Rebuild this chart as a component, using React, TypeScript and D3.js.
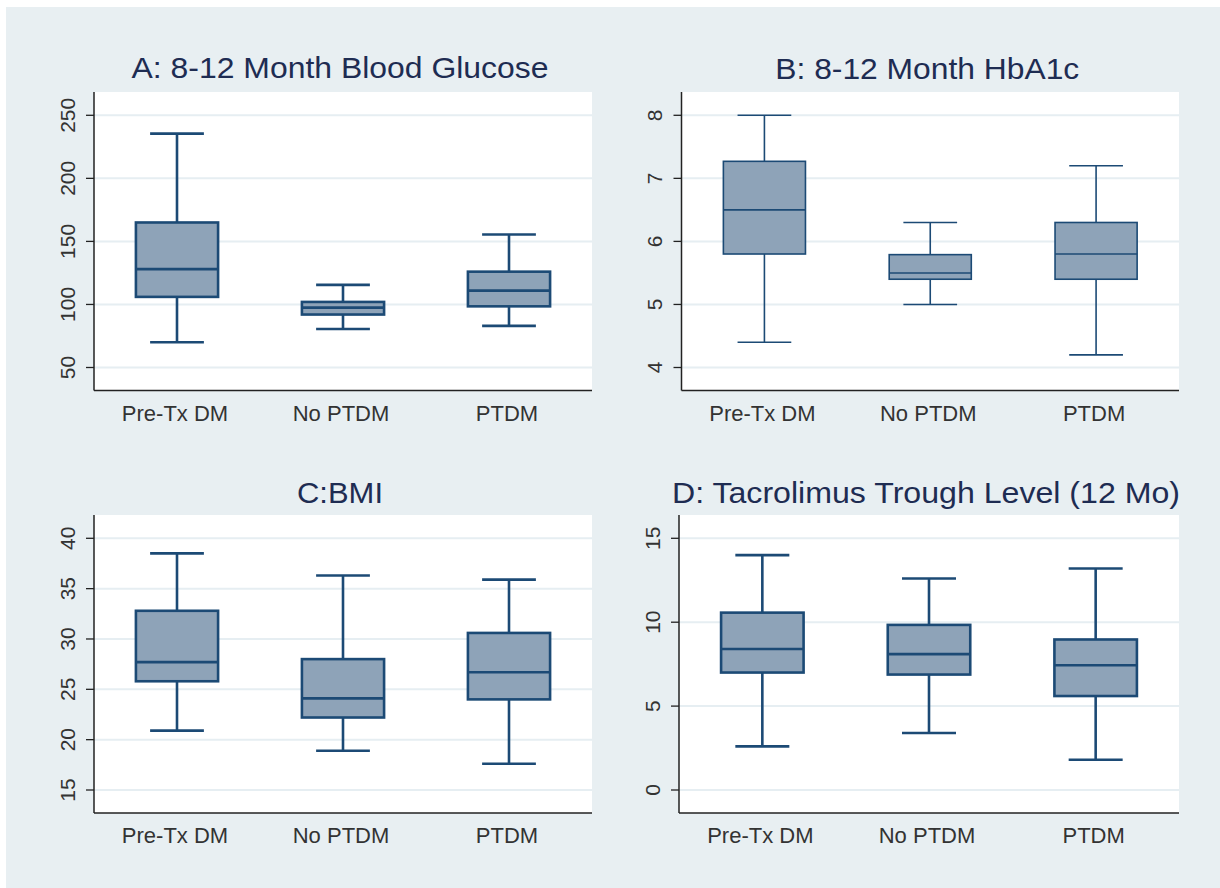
import React from "react";
import * as d3 from "d3";

const categories = ["Pre-Tx DM", "No PTDM", "PTDM"];

// box stats: [lower whisker, Q1, median, Q3, upper whisker]
const glucoseStats = [
  [70, 106, 128, 165, 235.5],
  [80.5, 92, 97.5, 102, 115.5],
  [83, 98.5, 111, 126, 155.5],
];
const hba1cStats = [
  [4.4, 5.8, 6.5, 7.27, 8.0],
  [5.0, 5.4, 5.5, 5.79, 6.3],
  [4.2, 5.4, 5.8, 6.3, 7.2],
];
const bmiStats = [
  [20.9, 25.8, 27.7, 32.8, 38.5],
  [18.9, 22.2, 24.1, 28.0, 36.3],
  [17.6, 24.0, 26.7, 30.6, 35.9],
];
const tacroStats = [
  [2.6, 7.0, 8.4, 10.57, 14.0],
  [3.4, 6.88, 8.1, 9.84, 12.6],
  [1.8, 5.6, 7.43, 8.97, 13.2],
];

const glucoseTicks = [50, 100, 150, 200, 250];
const hba1cTicks = [4, 5, 6, 7, 8];
const bmiTicks = [15, 20, 25, 30, 35, 40];
const tacroTicks = [0, 5, 10, 15];

const titles = [
  "A: 8-12 Month Blood Glucose",
  "B: 8-12 Month HbA1c",
  "C:BMI",
  "D: Tacrolimus Trough Level (12 Mo)",
];

const panels = [
  { title: titles[0], stats: glucoseStats, ticks: glucoseTicks, left: 94, right: 592, top: 92, bottom: 390.5, sw: 2.6, titleW: 417, titleY: 78 },
  { title: titles[1], stats: hba1cStats, ticks: hba1cTicks, left: 681.5, right: 1179, top: 92, bottom: 390.5, sw: 1.6, titleW: 304, titleY: 79 },
  { title: titles[2], stats: bmiStats, ticks: bmiTicks, left: 94, right: 592, top: 515, bottom: 813, sw: 2.6, titleW: 86, titleY: 503 },
  { title: titles[3], stats: tacroStats, ticks: tacroTicks, left: 679, right: 1179, top: 515, bottom: 813, sw: 2.6, titleW: 508, titleY: 503 },
];

const BG = "#e8eff2";
const FILL = "#8ea3b8";
const STROKE = "#1c4a75";
const GRID = "#e6eef2";
const FONT = "'Liberation Sans', Arial, sans-serif";

function Panel({ p }: { p: typeof panels[number] }) {
  const width = p.right - p.left;
  const x = d3.scalePoint<string>().domain(categories).range([p.left, p.right]).padding(0.5);
  const [t0, t1] = d3.extent(p.ticks) as [number, number];
  const y = d3.scaleLinear().domain([t0, t1]).range([p.bottom - 23, p.top + 23.3]);
  const boxW = width * 0.165;
  const capW = width * 0.108;
  const cx = (p.left + p.right) / 2;
  return (
    <g>
      <rect x={p.left} y={p.top} width={width} height={p.bottom - p.top} fill="#ffffff" />
      {p.ticks.map((t) => (
        <line key={"g" + t} x1={p.left} x2={p.right} y1={y(t)} y2={y(t)} stroke={GRID} strokeWidth={2} />
      ))}
      {p.stats.map((s, i) => {
        const c = x(categories[i]) as number;
        const [lo, q1, med, q3, hi] = s;
        return (
          <g key={i} stroke={STROKE} strokeWidth={p.sw} fill="none">
            <line x1={c} x2={c} y1={y(q3)} y2={y(hi)} />
            <line x1={c} x2={c} y1={y(q1)} y2={y(lo)} />
            <line x1={c - capW / 2} x2={c + capW / 2} y1={y(hi)} y2={y(hi)} />
            <line x1={c - capW / 2} x2={c + capW / 2} y1={y(lo)} y2={y(lo)} />
            <rect x={c - boxW / 2} y={y(q3)} width={boxW} height={y(q1) - y(q3)} fill={FILL} />
            <line x1={c - boxW / 2} x2={c + boxW / 2} y1={y(med)} y2={y(med)} />
          </g>
        );
      })}
      <line x1={p.left} x2={p.left} y1={p.top} y2={p.bottom} stroke="#222" strokeWidth={1.5} />
      <line x1={p.left} x2={p.right} y1={p.bottom} y2={p.bottom} stroke="#222" strokeWidth={1.5} />
      {p.ticks.map((t) => (
        <g key={"t" + t}>
          <line x1={p.left - 8} x2={p.left} y1={y(t)} y2={y(t)} stroke="#222" strokeWidth={1.3} />
          <text
            transform={`translate(${p.left - 19.5},${y(t)}) rotate(-90)`}
            textAnchor="middle"
            fontFamily={FONT}
            fontSize={21}
            fill="#333"
          >
            {t}
          </text>
        </g>
      ))}
      {categories.map((c) => (
        <text
          key={c}
          x={(x(c) as number) - 2}
          y={p.bottom + 30}
          textAnchor="middle"
          fontFamily={FONT}
          fontSize={22}
          fill="#333"
        >
          {c}
        </text>
      ))}
      <text
        x={cx - 3}
        y={p.titleY}
        textAnchor="middle"
        fontFamily={FONT}
        fontSize={29}
        fill="#1e2c52"
        textLength={p.titleW}
        lengthAdjust="spacingAndGlyphs"
      >
        {p.title}
      </text>
    </g>
  );
}

export default function App() {
  return (
    <div style={{ position: "absolute", left: 0, top: 0 }}>
      <svg width={1220} height={888} style={{ display: "block" }}>
        <rect x={0} y={0} width={1220} height={888} fill="#ffffff" />
        <rect x={6} y={7} width={1214} height={881} fill={BG} />
        {panels.map((p, i) => (
          <Panel key={i} p={p} />
        ))}
      </svg>
    </div>
  );
}
